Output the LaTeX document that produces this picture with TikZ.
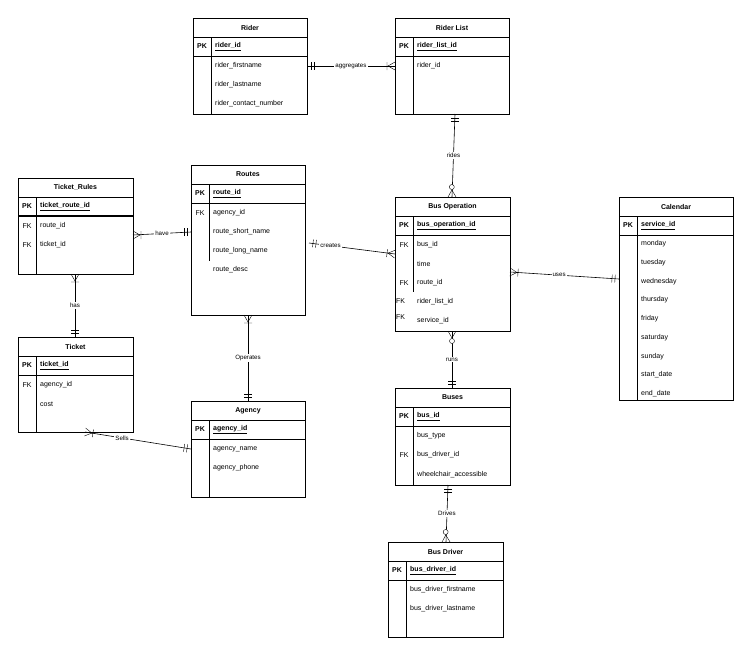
\documentclass[tikz,border=0pt]{standalone}
\usepackage{fontspec}
\setmainfont{Liberation Sans}
\usetikzlibrary{calc}
\newcommand\ertable[8]{%
 \node[draw,line width=0.7pt,minimum width=#4pt,minimum height=#5pt,anchor=north west,inner sep=0pt] (#1) at (#2,#3) {};
 \draw (#2,#3+19) -- ++(#4,0);
 \draw[line width=0.7pt] (#2,#3+38) -- ++(#4,0);
 \node[ttl] at (#2+#4/2,#3+9.5) {#6};
 \node[ttl] at (#2+9,#3+28.5) {PK};
 \node[ttl,anchor=west] at (#2+21,#3+28.5) {\underline{#7}};
 \draw (#2+18,#3+19) -- (#2+18,#8);
}
\newcommand\erow[4]{%
 \node[txt] at (#1+9,#2) {#3};
 \node[txt,anchor=west] at (#1+21,#2) {#4};
}
\newcommand\mone[2]{\begin{scope}[shift={(#1)},rotate=#2]
 \draw (4,-4) -- (4,4) (7,-4) -- (7,4);\end{scope}}
\newcommand\omany[2]{\begin{scope}[shift={(#1)},rotate=#2]
 \draw (0,-4) -- (7,0) -- (0,4) (8,-4) -- (8,4);\end{scope}}
\newcommand\zmany[2]{\begin{scope}[shift={(#1)},rotate=#2]
 \draw (0,-4) -- (7,0) -- (0,4); \draw[fill=white] (10,0) circle (2.5);\end{scope}}
\tikzset{txt/.style={font=\fontsize{7}{8}\selectfont,inner sep=1pt},
 ttl/.style={font=\fontsize{7}{8}\selectfont\bfseries,inner sep=1pt},
 lbl/.style={font=\fontsize{6.2}{7}\selectfont,fill=white,inner sep=1pt},
 conn/.style={line width=0.6pt}}
\begin{document}
\begin{tikzpicture}[x=1pt,y=-1pt]
\useasboundingbox (0,0) rectangle (752,656);
\fill[white] (0,0) rectangle (752,656);
% tables
\ertable{rider}{193}{18}{114}{96}{Rider}{rider\_id}{114}
\erow{193}{66}{}{rider\_firstname}
\erow{193}{85}{}{rider\_lastname}
\erow{193}{104}{}{rider\_contact\_number}
\ertable{rlist}{395}{18}{114}{96}{Rider List}{rider\_list\_id}{114}
\erow{395}{66}{}{rider\_id}
\ertable{routes}{191}{165}{114}{150}{Routes}{route\_id}{261}
\erow{191}{213}{FK}{agency\_id}
\erow{191}{232}{}{route\_short\_name}
\erow{191}{251}{}{route\_long\_name}
\erow{191}{270}{}{route\_desc}
\ertable{trules}{18}{178}{115}{96}{Ticket\_Rules}{ticket\_route\_id}{274}
\draw[line width=1.2pt] (18,216) -- (133,216);
\erow{18}{226}{FK}{route\_id}
\erow{18}{245}{FK}{ticket\_id}
\ertable{ticket}{18}{337}{115}{95}{Ticket}{ticket\_id}{432}
\erow{18}{385}{FK}{agency\_id}
\erow{18}{404}{}{cost}
\ertable{agency}{191}{401}{114}{96}{Agency}{agency\_id}{497}
\erow{191}{449}{}{agency\_name}
\erow{191}{468}{}{agency\_phone}
\ertable{busop}{395}{197}{115}{134}{Bus Operation}{bus\_operation\_id}{292}
\erow{395}{245}{FK}{bus\_id}
\erow{395}{264}{}{time}
\erow{395}{283}{FK}{route\_id}
\node[txt,anchor=west] at (395,301) {FK};
\node[txt,anchor=west] at (416,302) {rider\_list\_id};
\node[txt,anchor=west] at (395,317) {FK};
\node[txt,anchor=west] at (416,321) {service\_id};
\ertable{cal}{619}{197}{114}{203}{Calendar}{service\_id}{400}
\foreach \d [count=\i from 0] in {monday,tuesday,wednesday,thursday,friday,saturday,sunday,start\_date,end\_date}
 {\node[txt,anchor=west] at (640,244+18.7*\i) {\d};}
\ertable{buses}{395}{388}{115}{97}{Buses}{bus\_id}{485}
\erow{395}{436}{}{bus\_type}
\erow{395}{455}{FK}{bus\_driver\_id}
\erow{395}{475}{}{wheelchair\_accessible}
\ertable{driver}{388}{542}{115}{95}{Bus Driver}{bus\_driver\_id}{637}
\erow{388}{590}{}{bus\_driver\_firstname}
\erow{388}{609}{}{bus\_driver\_lastname}
% endpoints
\coordinate (a1) at (307,66); \coordinate (a2) at (395,66);
\coordinate (b1) at (455,114); \coordinate (b2) at (452,197);
\coordinate (c1) at (133,235); \coordinate (c2) at (191,232);
\coordinate (d1) at (309,243); \coordinate (d2) at (395,254);
\coordinate (e1) at (75,274); \coordinate (e2) at (75,337);
\coordinate (f1) at (248,315); \coordinate (f2) at (248,401);
\coordinate (g1) at (85,432); \coordinate (g2) at (191,449);
\coordinate (h1) at (510,272); \coordinate (h2) at (619,279);
\coordinate (i1) at (452,331); \coordinate (i2) at (452,388);
\coordinate (j1) at (448,485); \coordinate (j2) at (446,542);
\draw[conn] (a1) -- node[lbl]{aggregates} (a2);
\draw[conn] (b1) -- node[lbl]{rides} (b2);
\draw[conn] (c1) -- node[lbl]{have} (c2);
\draw[conn] (d1) -- node[lbl,pos=0.25]{creates} (d2);
\draw[conn] (e1) -- node[lbl]{has} (e2);
\draw[conn] (f1) -- node[lbl]{Operates} (f2);
\draw[conn] (g1) -- node[lbl,pos=0.35]{Sells} (g2);
\draw[conn] (h1) -- node[lbl,pos=0.45]{uses} (h2);
\draw[conn] (i1) -- node[lbl]{runs} (i2);
\draw[conn] (j1) -- node[lbl]{Drives} (j2);
\mone{a1}{0} \omany{a2}{180}
\mone{b1}{-90} \zmany{b2}{91}
\omany{c1}{0} \mone{c2}{180}
\mone{d1}{-7} \omany{d2}{173}
\omany{e1}{-90} \mone{e2}{90}
\omany{f1}{-90} \mone{f2}{90}
\omany{g1}{-9} \mone{g2}{171}
\omany{h1}{-4} \mone{h2}{176}
\zmany{i1}{-90} \mone{i2}{90}
\mone{j1}{-90} \zmany{j2}{92}
\end{tikzpicture}
\end{document}
